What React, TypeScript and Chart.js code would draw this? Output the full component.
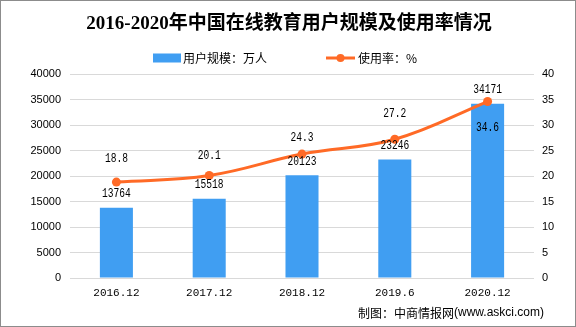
import React, { useEffect, useRef } from "react";
import { Chart, registerables } from "chart.js";

Chart.register(...registerables);

const categories = ["2016.12", "2017.12", "2018.12", "2019.6", "2020.12"];
const users = [13764, 15518, 20123, 23246, 34171];
const rates = [18.8, 20.1, 24.3, 27.2, 34.6];
const titleText = "2016-2020年中国在线教育用户规模及使用率情况";
const usersLabel = "用户规模：万人";
const ratesLabel = "使用率：%";
const footerText = "制图：中商情报网";
const footerUrl = "(www.askci.com)";

const BAR_COLOR = "#409EF2";
const LINE_COLOR = "#FF6A26";
const rateLabelOffsets = [-23, -20, -16, -25, 26];

const overlay = {
  id: "overlay",
  afterDatasetsDraw(chart: any) {
    const ctx = chart.ctx;
    ctx.save();
    ctx.fillStyle = "#000";
    ctx.textAlign = "center";
    ctx.textBaseline = "middle";
    const drawNum = (t: string, x: number, y: number) => {
      ctx.save();
      ctx.translate(x, y);
      ctx.scale(0.8, 1);
      ctx.font = "12px 'Liberation Mono', monospace";
      ctx.fillText(t, 0, 0);
      ctx.restore();
    };
    const barMeta = chart.getDatasetMeta(0);
    barMeta.data.forEach((el: any, i: number) => {
      drawNum(String(users[i]), el.x, el.y - 14);
    });
    const lineMeta = chart.getDatasetMeta(1);
    lineMeta.data.forEach((el: any, i: number) => {
      drawNum(String(rates[i]), el.x, el.y + rateLabelOffsets[i]);
    });
    ctx.restore();
  },
  afterDraw(chart: any) {
    const ctx = chart.ctx;
    ctx.save();
    // title
    ctx.fillStyle = "#000";
    ctx.textAlign = "center";
    ctx.textBaseline = "middle";
    ctx.font = "bold 19px 'Liberation Serif', 'Noto Sans CJK SC', serif";
    ctx.fillText(titleText, 289, 24);
    // legend
    ctx.fillStyle = BAR_COLOR;
    ctx.fillRect(153, 53.5, 28, 9);
    ctx.fillStyle = "#000";
    ctx.textAlign = "left";
    ctx.font = "12px 'Noto Sans CJK SC', sans-serif";
    ctx.fillText(usersLabel, 183, 58);
    ctx.strokeStyle = LINE_COLOR;
    ctx.lineWidth = 3;
    ctx.beginPath();
    ctx.moveTo(326, 58);
    ctx.lineTo(355, 58);
    ctx.stroke();
    ctx.fillStyle = LINE_COLOR;
    ctx.beginPath();
    ctx.arc(340.5, 58, 4, 0, Math.PI * 2);
    ctx.fill();
    ctx.fillStyle = "#000";
    ctx.fillText(ratesLabel, 358, 58);
    // footer
    ctx.font = "12px 'Noto Sans CJK SC', sans-serif";
    ctx.fillText(footerText, 358, 313);
    const w = ctx.measureText(footerText).width;
    ctx.font = "12px 'Liberation Sans', sans-serif";
    ctx.fillText(footerUrl, 358 + w, 313);
    // border
    ctx.strokeStyle = "#8C8C8C";
    ctx.lineWidth = 1;
    ctx.strokeRect(0.5, 0.5, 575, 326);
    ctx.restore();
  },
};

export default function App() {
  const ref = useRef<HTMLCanvasElement>(null);
  useEffect(() => {
    document.body.style.margin = "0";
    const c = ref.current!;
    const chart = new Chart(c, {
      type: "bar",
      data: {
        labels: categories,
        datasets: [
          {
            type: "bar",
            label: usersLabel,
            data: users,
            backgroundColor: BAR_COLOR,
            yAxisID: "y",
            categoryPercentage: 1,
            barPercentage: 0.356,
            order: 1,
          },
          {
            type: "line",
            label: ratesLabel,
            data: rates,
            borderColor: LINE_COLOR,
            backgroundColor: LINE_COLOR,
            borderWidth: 3,
            pointRadius: 4.5,
            pointBackgroundColor: LINE_COLOR,
            pointBorderWidth: 0,
            tension: 0.4,
            yAxisID: "y1",
            order: 0,
          } as any,
        ],
      },
      options: {
        responsive: false,
        animation: false,
        layout: { padding: { top: 74, bottom: 0, left: 0, right: 0 } },
        plugins: {
          legend: { display: false },
          title: { display: false },
          tooltip: { enabled: false },
        },
        scales: {
          x: {
            grid: { display: false, drawTicks: false },
            border: { display: false },
            ticks: {
              color: "#000",
              padding: 8,
              font: { family: "'Liberation Mono', monospace", size: 11 },
              maxRotation: 0,
            },
            afterFit: (s: any) => {
              s.height = 49;
            },
          },
          y: {
            position: "left",
            min: 0,
            max: 40000,
            ticks: {
              stepSize: 5000,
              color: "#000",
              padding: 9,
              font: { family: "'Liberation Sans', sans-serif", size: 11 },
              callback: (v: any) => String(v),
            },
            grid: { color: "#D9D9D9", drawTicks: false, lineWidth: 1 },
            border: { display: false },
            afterFit: (s: any) => {
              s.width = 70;
            },
          },
          y1: {
            position: "right",
            min: 0,
            max: 40,
            ticks: {
              stepSize: 5,
              color: "#000",
              padding: 8,
              font: { family: "'Liberation Sans', sans-serif", size: 11 },
              callback: (v: any) => String(v),
            },
            grid: { display: false, drawTicks: false },
            border: { display: false },
            afterFit: (s: any) => {
              s.width = 42;
            },
          },
        },
      },
      plugins: [overlay],
    });
    return () => chart.destroy();
  }, []);
  return (
    <div style={{ width: 576, height: 327, background: "#fff" }}>
      <canvas ref={ref} width={576} height={327} style={{ display: "block" }} />
    </div>
  );
}
